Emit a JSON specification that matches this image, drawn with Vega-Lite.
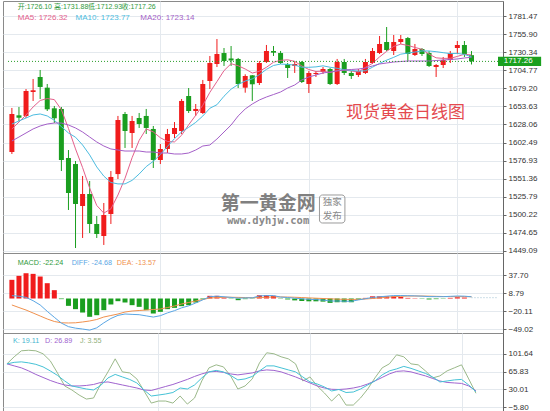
{
"$schema": "https://vega.github.io/schema/vega-lite/v6.json",
"background": "white",
"padding": {"left": 2, "top": 0, "right": 0, "bottom": 0},
"spacing": 0,
"bounds": "flush",
"config": {
  "view": {"stroke": "#8a8a8a", "strokeWidth": 1},
  "axis": {"labelFontSize": 8, "labelColor": "#333333", "labelFont": "Liberation Sans", "tickColor": "#666666", "tickSize": 3, "domainColor": "#666666", "gridColor": "#e4e9ee", "labelPadding": 2}
},
"datasets": {"k": [
{"i":1,"o":1589.1,"h":1651.4,"l":1586.3,"c":1642.9,"a5":1621.6,"a10":1628.7,"a20":1604.7,"m":30,"dif":4.6,"dea":-10.4,"K":81.3,"D":81.3,"J":81.3},
{"i":2,"o":1641.0,"h":1652.8,"l":1633.0,"c":1637.6,"a5":1631.5,"a10":1633.0,"a20":1610.3,"m":36.4,"dif":3.7,"dea":-14.5,"K":84.3,"D":77.2,"J":95.5},
{"i":3,"o":1640.1,"h":1678.2,"l":1637.2,"c":1675.4,"a5":1641.5,"a10":1637.2,"a20":1616.0,"m":40.6,"dif":1.8,"dea":-18.5,"K":85.3,"D":73.2,"J":107.6},
{"i":4,"o":1674.0,"h":1692.4,"l":1661.3,"c":1676.4,"a5":1652.8,"a10":1641.5,"a20":1621.7,"m":39.6,"dif":-3.5,"dea":-23.3,"K":83.3,"D":67.1,"J":108.7},
{"i":5,"o":1695.2,"h":1705.1,"l":1664.1,"c":1681.1,"a5":1662.0,"a10":1642.9,"a20":1625.9,"m":35.3,"dif":-10.4,"dea":-28.1,"K":80.3,"D":60.0,"J":107.6},
{"i":6,"o":1680.1,"h":1685.3,"l":1647.1,"c":1649.5,"a5":1664.7,"a10":1640.1,"a20":1628.7,"m":24.6,"dif":-20.6,"dea":-32.9,"K":75.2,"D":53.9,"J":101.6},
{"i":7,"o":1650.9,"h":1654.2,"l":1630.1,"c":1636.8,"a5":1663.2,"a10":1634.0,"a20":1630.1,"m":13.4,"dif":-30.2,"dea":-36.9,"K":67.1,"D":47.8,"J":87.4},
{"i":8,"o":1650.0,"h":1652.8,"l":1562.2,"c":1577.8,"a5":1649.0,"a10":1625.0,"a20":1630.1,"m":-1,"dif":-39.5,"dea":-39.0,"K":58.0,"D":42.8,"J":63.0},
{"i":9,"o":1580.6,"h":1591.9,"l":1507.1,"c":1531.1,"a5":1622.5,"a10":1616.0,"a20":1627.3,"m":-11.8,"dif":-45.2,"dea":-39.3,"K":46.8,"D":38.7,"J":36.7},
{"i":10,"o":1572.1,"h":1576.4,"l":1453.3,"c":1515.6,"a5":1593.5,"a10":1610.0,"a20":1623.1,"m":-17.1,"dif":-47.6,"dea":-39.0,"K":36.7,"D":36.7,"J":28.6},
{"i":11,"o":1512.7,"h":1555.2,"l":1467.5,"c":1529.7,"a5":1567.0,"a10":1599.0,"a20":1617.4,"m":-22.5,"dif":-49.0,"dea":-37.7,"K":33.6,"D":36.7,"J":18.4},
{"i":12,"o":1529.7,"h":1548.1,"l":1474.5,"c":1487.3,"a5":1538.0,"a10":1585.0,"a20":1610.3,"m":-29.4,"dif":-50.8,"dea":-36.1,"K":30.6,"D":37.7,"J":10.3},
{"i":13,"o":1487.3,"h":1498.6,"l":1467.5,"c":1473.1,"a5":1513.5,"a10":1568.0,"a20":1603.3,"m":-26.8,"dif":-47.1,"dea":-33.7,"K":28.6,"D":39.7,"J":12.4},
{"i":14,"o":1470.3,"h":1517.0,"l":1457.6,"c":1500.0,"a5":1502.7,"a10":1555.0,"a20":1597.6,"m":-18.7,"dif":-39.1,"dea":-29.7,"K":37.7,"D":43.8,"J":40.8},
{"i":15,"o":1501.4,"h":1562.2,"l":1487.3,"c":1553.8,"a5":1508.6,"a10":1546.0,"a20":1593.4,"m":-9.6,"dif":-32.1,"dea":-27.3,"K":52.9,"D":44.8,"J":65.1},
{"i":16,"o":1557.9,"h":1640.1,"l":1550.9,"c":1634.4,"a5":1528.3,"a10":1544.0,"a20":1591.9,"m":-4.3,"dif":-27.1,"dea":-24.9,"K":60.0,"D":41.8,"J":91.4},
{"i":17,"o":1642.9,"h":1645.7,"l":1594.8,"c":1618.8,"a5":1552.0,"a10":1544.0,"a20":1590.5,"m":-6.4,"dif":-24.9,"dea":-21.7,"K":54.9,"D":38.7,"J":65.1},
{"i":18,"o":1616.0,"h":1640.1,"l":1594.8,"c":1633.0,"a5":1581.0,"a10":1549.0,"a20":1590.5,"m":-10.7,"dif":-25.5,"dea":-20.1,"K":49.9,"D":35.7,"J":63.0},
{"i":19,"o":1637.2,"h":1644.3,"l":1623.1,"c":1628.7,"a5":1605.6,"a10":1558.0,"a20":1590.5,"m":-13.4,"dif":-26.0,"dea":-19.3,"K":42.8,"D":32.6,"J":50.9},
{"i":20,"o":1640.1,"h":1650.0,"l":1614.6,"c":1623.1,"a5":1621.8,"a10":1568.5,"a20":1589.1,"m":-18.7,"dif":-27.9,"dea":-18.5,"K":28.6,"D":28.6,"J":26.6},
{"i":21,"o":1621.7,"h":1625.9,"l":1566.5,"c":1577.8,"a5":1617.5,"a10":1576.0,"a20":1589.1,"m":-24.1,"dif":-29.8,"dea":-17.7,"K":16.4,"D":27.6,"J":2.2},
{"i":22,"o":1577.8,"h":1600.4,"l":1572.1,"c":1593.4,"a5":1609.3,"a10":1585.5,"a20":1587.7,"m":-21.4,"dif":-27.6,"dea":-16.9,"K":18.4,"D":31.6,"J":6.3},
{"i":23,"o":1593.4,"h":1621.7,"l":1587.7,"c":1614.6,"a5":1604.0,"a10":1597.0,"a20":1587.7,"m":-17.1,"dif":-23.1,"dea":-14.5,"K":20.5,"D":35.7,"J":6.3},
{"i":24,"o":1614.6,"h":1631.5,"l":1608.9,"c":1623.1,"a5":1603.4,"a10":1608.0,"a20":1586.3,"m":-15,"dif":-19.5,"dea":-12.0,"K":23.5,"D":39.7,"J":2.2},
{"i":25,"o":1618.8,"h":1664.1,"l":1614.6,"c":1661.3,"a5":1612.8,"a10":1617.5,"a20":1586.3,"m":-12.3,"dif":-15.0,"dea":-8.8,"K":32.6,"D":44.8,"J":16.4},
{"i":26,"o":1668.3,"h":1679.6,"l":1644.3,"c":1647.1,"a5":1627.6,"a10":1624.0,"a20":1587.7,"m":-10.7,"dif":-11.8,"dea":-6.4,"K":30.6,"D":49.9,"J":0.2},
{"i":27,"o":1647.1,"h":1657.0,"l":1640.1,"c":1650.0,"a5":1641.0,"a10":1631.0,"a20":1591.9,"m":-6.4,"dif":-7.2,"dea":-4.0,"K":38.7,"D":55.9,"J":12.4},
{"i":28,"o":1644.3,"h":1691.0,"l":1642.9,"c":1685.3,"a5":1655.2,"a10":1640.0,"a20":1597.6,"m":-1,"dif":-2.1,"dea":-1.6,"K":52.9,"D":61.0,"J":46.8},
{"i":29,"o":1689.5,"h":1724.9,"l":1678.2,"c":1715.0,"a5":1673.5,"a10":1651.0,"a20":1599.0,"m":4.3,"dif":3.0,"dea":0.8,"K":65.1,"D":65.1,"J":73.2},
{"i":30,"o":1713.6,"h":1748.9,"l":1709.3,"c":1727.7,"a5":1688.7,"a10":1656.0,"a20":1607.5,"m":4.3,"dif":3.7,"dea":1.5,"K":68.1,"D":66.1,"J":79.3},
{"i":31,"o":1729.1,"h":1736.2,"l":1710.8,"c":1717.8,"a5":1704.2,"a10":1668.0,"a20":1617.4,"m":1.5,"dif":2.8,"dea":2.0,"K":65.1,"D":64.1,"J":75.2},
{"i":32,"o":1721.4,"h":1739.0,"l":1710.8,"c":1718.6,"a5":1714.0,"a10":1678.0,"a20":1627.3,"m":-0.5,"dif":1.8,"dea":2.0,"K":58.0,"D":61.0,"J":57.0},
{"i":33,"o":1720.7,"h":1722.1,"l":1679.6,"c":1685.3,"a5":1711.1,"a10":1684.5,"a20":1640.1,"m":-2.7,"dif":0.5,"dea":1.8,"K":48.9,"D":59.0,"J":30.6},
{"i":34,"o":1680.1,"h":1699.0,"l":1673.0,"c":1696.6,"a5":1706.5,"a10":1689.5,"a20":1650.0,"m":-1,"dif":1.0,"dea":1.5,"K":50.9,"D":61.0,"J":36.7},
{"i":35,"o":1697.6,"h":1698.0,"l":1661.3,"c":1684.9,"a5":1700.8,"a10":1692.5,"a20":1657.0,"m":-0.5,"dif":1.1,"dea":1.3,"K":55.9,"D":63.0,"J":50.9},
{"i":36,"o":1686.7,"h":1717.8,"l":1683.9,"c":1715.0,"a5":1703.3,"a10":1698.5,"a20":1662.7,"m":5.3,"dif":4.2,"dea":1.5,"K":67.1,"D":67.1,"J":83.3},
{"i":37,"o":1716.4,"h":1740.5,"l":1715.0,"c":1732.0,"a5":1708.9,"a10":1706.0,"a20":1666.9,"m":5.3,"dif":4.7,"dea":2.0,"K":77.2,"D":69.1,"J":103.6},
{"i":38,"o":1732.0,"h":1739.0,"l":1724.9,"c":1729.6,"a5":1716.1,"a10":1711.5,"a20":1670.4,"m":4.3,"dif":4.7,"dea":2.5,"K":77.2,"D":68.1,"J":101.6},
{"i":39,"o":1729.1,"h":1732.0,"l":1713.6,"c":1715.0,"a5":1718.7,"a10":1713.5,"a20":1674.0,"m":-0.5,"dif":2.3,"dea":2.5,"K":73.2,"D":65.1,"J":95.5},
{"i":40,"o":1713.6,"h":1715.0,"l":1693.8,"c":1707.9,"a5":1719.5,"a10":1713.0,"a20":1679.6,"m":-1.5,"dif":1.6,"dea":2.3,"K":69.1,"D":60.0,"J":91.4},
{"i":41,"o":1710.8,"h":1717.8,"l":1700.9,"c":1713.6,"a5":1717.3,"a10":1712.0,"a20":1683.9,"m":-3,"dif":0.5,"dea":2.0,"K":65.1,"D":54.9,"J":81.3},
{"i":42,"o":1716.4,"h":1717.8,"l":1686.7,"c":1688.1,"a5":1710.8,"a10":1709.0,"a20":1691.0,"m":-4,"dif":-0.5,"dea":1.5,"K":54.9,"D":48.9,"J":46.8},
{"i":43,"o":1685.3,"h":1703.7,"l":1672.6,"c":1700.9,"a5":1705.8,"a10":1708.9,"a20":1695.2,"m":-4.5,"dif":-1.3,"dea":1.0,"K":44.8,"D":42.8,"J":54.9},
{"i":44,"o":1699.4,"h":1703.7,"l":1695.2,"c":1700.9,"a5":1703.0,"a10":1709.5,"a20":1698.0,"m":-4.5,"dif":-1.8,"dea":0.5,"K":40.7,"D":36.7,"J":36.7},
{"i":45,"o":1702.3,"h":1709.3,"l":1699.4,"c":1706.5,"a5":1703.5,"a10":1711.0,"a20":1700.9,"m":-5,"dif":-2.5,"dea":0.0,"K":34.7,"D":32.6,"J":22.5},
{"i":46,"o":1706.5,"h":1707.9,"l":1683.9,"c":1685.3,"a5":1701.4,"a10":1709.0,"a20":1702.3,"m":-7,"dif":-4.0,"dea":-0.5,"K":26.6,"D":30.0,"J":6.3},
{"i":47,"o":1685.3,"h":1720.7,"l":1683.9,"c":1716.4,"a5":1704.2,"a10":1707.5,"a20":1703.7,"m":-6,"dif":-4.0,"dea":-1.0,"K":29.6,"D":29.6,"J":20.5},
{"i":48,"o":1716.4,"h":1720.7,"l":1698.0,"c":1700.9,"a5":1705.0,"a10":1705.5,"a20":1705.1,"m":-6,"dif":-4.3,"dea":-1.3,"K":23.5,"D":30.6,"J":-1.8},
{"i":49,"o":1700.9,"h":1703.7,"l":1692.4,"c":1696.6,"a5":1703.8,"a10":1704.5,"a20":1705.8,"m":-6,"dif":-4.5,"dea":-1.5,"K":24.5,"D":32.6,"J":-1.8},
{"i":50,"o":1698.0,"h":1706.5,"l":1695.2,"c":1703.7,"a5":1702.2,"a10":1703.5,"a20":1706.5,"m":-2,"dif":-2.3,"dea":-1.3,"K":30.6,"D":35.7,"J":12.4},
{"i":51,"o":1700.9,"h":1720.7,"l":1699.4,"c":1716.4,"a5":1708.8,"a10":1704.0,"a20":1707.9,"m":1,"dif":-0.3,"dea":-0.8,"K":38.7,"D":40.7,"J":30.6},
{"i":52,"o":1715.0,"h":1736.2,"l":1713.6,"c":1732.0,"a5":1714.5,"a10":1709.0,"a20":1710.8,"m":3.5,"dif":1.75,"dea":0.0,"K":46.8,"D":46.8,"J":52.9},
{"i":53,"o":1729.1,"h":1753.2,"l":1727.7,"c":1741.9,"a5":1723.6,"a10":1714.5,"a20":1713.6,"m":3.5,"dif":2.75,"dea":1.0,"K":59.0,"D":53.9,"J":73.2},
{"i":54,"o":1744.7,"h":1765.9,"l":1732.0,"c":1733.4,"a5":1731.5,"a10":1719.0,"a20":1715.0,"m":3.5,"dif":3.75,"dea":2.0,"K":67.1,"D":61.0,"J":81.3},
{"i":55,"o":1732.0,"h":1754.6,"l":1726.3,"c":1744.7,"a5":1738.5,"a10":1723.0,"a20":1716.4,"m":3.5,"dif":4.75,"dea":3.0,"K":71.1,"D":66.1,"J":99.5},
{"i":56,"o":1744.7,"h":1754.6,"l":1741.9,"c":1748.9,"a5":1741.7,"a10":1727.5,"a20":1717.1,"m":2.5,"dif":4.75,"dea":3.5,"K":76.2,"D":67.1,"J":95.5},
{"i":57,"o":1750.3,"h":1751.8,"l":1717.8,"c":1727.7,"a5":1739.9,"a10":1729.0,"a20":1717.8,"m":1,"dif":4.5,"dea":4.0,"K":72.2,"D":65.1,"J":81.3},
{"i":58,"o":1726.3,"h":1741.9,"l":1724.9,"c":1734.8,"a5":1737.0,"a10":1730.5,"a20":1717.8,"m":0.5,"dif":4.25,"dea":4.0,"K":67.1,"D":61.0,"J":79.3},
{"i":59,"o":1734.8,"h":1736.2,"l":1724.9,"c":1727.7,"a5":1734.4,"a10":1732.0,"a20":1717.8,"m":-0.5,"dif":3.75,"dea":4.0,"K":62.0,"D":57.0,"J":67.1},
{"i":60,"o":1729.1,"h":1732.0,"l":1709.3,"c":1710.8,"a5":1727.5,"a10":1732.0,"a20":1717.8,"m":-1.5,"dif":3.05,"dea":3.8,"K":54.9,"D":51.9,"J":52.9},
{"i":61,"o":1709.3,"h":1713.6,"l":1695.2,"c":1712.2,"a5":1722.3,"a10":1731.0,"a20":1718.5,"m":-1,"dif":3.0,"dea":3.5,"K":44.8,"D":46.8,"J":57.0},
{"i":62,"o":1712.2,"h":1723.5,"l":1707.9,"c":1719.2,"a5":1721.5,"a10":1729.6,"a20":1719.2,"m":-0.5,"dif":2.95,"dea":3.2,"K":46.8,"D":43.8,"J":67.1},
{"i":63,"o":1719.2,"h":1732.0,"l":1715.0,"c":1729.1,"a5":1721.6,"a10":1728.3,"a20":1719.9,"m":1,"dif":3.5,"dea":3.0,"K":48.9,"D":42.8,"J":73.2},
{"i":64,"o":1736.2,"h":1746.1,"l":1727.7,"c":1740.5,"a5":1724.3,"a10":1728.6,"a20":1720.7,"m":2,"dif":4.0,"dea":3.0,"K":49.9,"D":41.8,"J":79.3},
{"i":65,"o":1740.5,"h":1746.1,"l":1723.5,"c":1727.7,"a5":1727.4,"a10":1727.1,"a20":1722.1,"m":1.5,"dif":3.75,"dea":3.0,"K":38.7,"D":36.7,"J":50.9},
{"i":66,"o":1726.10,"h":1731.88,"l":1712.93,"c":1717.26,"a5":1726.32,"a10":1723.77,"a20":1723.14,"m":0,"dif":2.8,"dea":2.8,"K":25.0,"D":26.89,"J":22.0}
]},
"vconcat": [
{
 "width": 500, "height": 252,
 "layer": [
  {"data": {"name": "k"}, "mark": {"type": "rule", "strokeWidth": 1},
   "encoding": {
    "x": {"field": "i", "type": "quantitative", "scale": {"domain": [0.45, 69.75], "nice": false, "zero": false}, "axis": {"values": [22, 43, 64], "grid": true, "labels": false, "ticks": false, "domain": false, "title": null}},
    "y": {"field": "l", "type": "quantitative", "scale": {"domain": [1446.26, 1802.69], "nice": false, "zero": false}, "axis": {"orient": "right", "values": [1449.09, 1474.65, 1500.22, 1525.79, 1551.36, 1576.93, 1602.49, 1628.06, 1653.63, 1679.2, 1704.77, 1730.34, 1755.9, 1781.47], "format": ".2f", "grid": true, "title": null}},
    "y2": {"field": "h"},
    "color": {"condition": {"test": "datum.c >= datum.o", "value": "#f01c1c"}, "value": "#1a9e1f"}
   }},
  {"data": {"name": "k"}, "mark": {"type": "bar", "width": 5},
   "encoding": {
    "x": {"field": "i", "type": "quantitative", "scale": {"domain": [0.45, 69.75], "nice": false, "zero": false}, "axis": {"values": [22, 43, 64], "grid": true, "labels": false, "ticks": false, "domain": false, "title": null}},
    "y": {"field": "o", "type": "quantitative", "scale": {"domain": [1446.26, 1802.69], "nice": false, "zero": false}, "axis": {"orient": "right", "values": [1449.09, 1474.65, 1500.22, 1525.79, 1551.36, 1576.93, 1602.49, 1628.06, 1653.63, 1679.2, 1704.77, 1730.34, 1755.9, 1781.47], "format": ".2f", "grid": true, "title": null}},
    "y2": {"field": "c"},
    "color": {"condition": {"test": "datum.c >= datum.o", "value": "#f01c1c"}, "value": "#1a9e1f"}
   }},
  {"data": {"name": "k"}, "mark": {"type": "line", "strokeWidth": 1, "color": "#e4608c"},
   "encoding": {
    "x": {"field": "i", "type": "quantitative", "scale": {"domain": [0.45, 69.75], "nice": false, "zero": false}, "axis": {"values": [22, 43, 64], "grid": true, "labels": false, "ticks": false, "domain": false, "title": null}},
    "y": {"field": "a5", "type": "quantitative", "scale": {"domain": [1446.26, 1802.69], "nice": false, "zero": false}, "axis": {"orient": "right", "values": [1449.09, 1474.65, 1500.22, 1525.79, 1551.36, 1576.93, 1602.49, 1628.06, 1653.63, 1679.2, 1704.77, 1730.34, 1755.9, 1781.47], "format": ".2f", "grid": true, "title": null}}
   }},
  {"data": {"name": "k"}, "mark": {"type": "line", "strokeWidth": 1, "color": "#4cbce0"},
   "encoding": {
    "x": {"field": "i", "type": "quantitative", "scale": {"domain": [0.45, 69.75], "nice": false, "zero": false}, "axis": {"values": [22, 43, 64], "grid": true, "labels": false, "ticks": false, "domain": false, "title": null}},
    "y": {"field": "a10", "type": "quantitative", "scale": {"domain": [1446.26, 1802.69], "nice": false, "zero": false}, "axis": {"orient": "right", "values": [1449.09, 1474.65, 1500.22, 1525.79, 1551.36, 1576.93, 1602.49, 1628.06, 1653.63, 1679.2, 1704.77, 1730.34, 1755.9, 1781.47], "format": ".2f", "grid": true, "title": null}}
   }},
  {"data": {"name": "k"}, "mark": {"type": "line", "strokeWidth": 1, "color": "#a45fc8"},
   "encoding": {
    "x": {"field": "i", "type": "quantitative", "scale": {"domain": [0.45, 69.75], "nice": false, "zero": false}, "axis": {"values": [22, 43, 64], "grid": true, "labels": false, "ticks": false, "domain": false, "title": null}},
    "y": {"field": "a20", "type": "quantitative", "scale": {"domain": [1446.26, 1802.69], "nice": false, "zero": false}, "axis": {"orient": "right", "values": [1449.09, 1474.65, 1500.22, 1525.79, 1551.36, 1576.93, 1602.49, 1628.06, 1653.63, 1679.2, 1704.77, 1730.34, 1755.9, 1781.47], "format": ".2f", "grid": true, "title": null}}
   }},
  {"data": {"values": [{}]}, "mark": {"type": "rule", "strokeDash": [1, 2], "color": "#2a9d2a", "strokeWidth": 1},
   "encoding": {
    "x": {"datum": 0.45, "type": "quantitative", "scale": {"domain": [0.45, 69.75], "nice": false, "zero": false}, "axis": {"values": [22, 43, 64], "grid": true, "labels": false, "ticks": false, "domain": false, "title": null}},
    "x2": {"datum": 69.75},
    "y": {"datum": 1717.26, "type": "quantitative", "scale": {"domain": [1446.26, 1802.69], "nice": false, "zero": false}, "axis": {"orient": "right", "values": [1449.09, 1474.65, 1500.22, 1525.79, 1551.36, 1576.93, 1602.49, 1628.06, 1653.63, 1679.2, 1704.77, 1730.34, 1755.9, 1781.47], "format": ".2f", "grid": true, "title": null}}
   }},
  {"data": {"values": [{}]}, "mark": {"type": "rect", "color": "#1aa01f"},
   "encoding": {
    "x": {"datum": 69.75, "type": "quantitative", "scale": {"domain": [0.45, 69.75], "nice": false, "zero": false}, "axis": {"values": [22, 43, 64], "grid": true, "labels": false, "ticks": false, "domain": false, "title": null}},
    "x2": {"datum": 75.85},
    "y": {"datum": 1723.7, "type": "quantitative", "scale": {"domain": [1446.26, 1802.69], "nice": false, "zero": false}, "axis": {"orient": "right", "values": [1449.09, 1474.65, 1500.22, 1525.79, 1551.36, 1576.93, 1602.49, 1628.06, 1653.63, 1679.2, 1704.77, 1730.34, 1755.9, 1781.47], "format": ".2f", "grid": true, "title": null}},
    "y2": {"datum": 1710.8}
   }},
  {"data": {"values": [{}]}, "mark": {"type": "text", "text": "1717.26", "align": "center", "baseline": "middle", "fontSize": 8, "color": "#ffffff", "font": "Liberation Sans"},
   "encoding": {
    "x": {"datum": 72.6, "type": "quantitative", "scale": {"domain": [0.45, 69.75], "nice": false, "zero": false}, "axis": {"values": [22, 43, 64], "grid": true, "labels": false, "ticks": false, "domain": false, "title": null}},
    "y": {"datum": 1717.26, "type": "quantitative", "scale": {"domain": [1446.26, 1802.69], "nice": false, "zero": false}, "axis": {"orient": "right", "values": [1449.09, 1474.65, 1500.22, 1525.79, 1551.36, 1576.93, 1602.49, 1628.06, 1653.63, 1679.2, 1704.77, 1730.34, 1755.9, 1781.47], "format": ".2f", "grid": true, "title": null}}
   }},
  {"data": {"values": [{"t": "开:1726.10", "x": 1.83}, {"t": "高:1731.88", "x": 6.96}, {"t": "低:1712.93", "x": 11.75}, {"t": "收:1717.26", "x": 16.5}]},
   "mark": {"type": "text", "align": "left", "baseline": "middle", "fontSize": 7, "color": "#2f9a3c", "font": "Liberation Sans, Noto Sans CJK SC"},
   "encoding": {
    "x": {"field": "x", "type": "quantitative", "scale": {"domain": [0.45, 69.75], "nice": false, "zero": false}, "axis": {"values": [22, 43, 64], "grid": true, "labels": false, "ticks": false, "domain": false, "title": null}},
    "y": {"datum": 1794.2, "type": "quantitative", "scale": {"domain": [1446.26, 1802.69], "nice": false, "zero": false}, "axis": {"orient": "right", "values": [1449.09, 1474.65, 1500.22, 1525.79, 1551.36, 1576.93, 1602.49, 1628.06, 1653.63, 1679.2, 1704.77, 1730.34, 1755.9, 1781.47], "format": ".2f", "grid": true, "title": null}},
    "text": {"field": "t"}
   }},
  {"data": {"values": [{"t": "MA5: 1726.32", "x": 1.83, "s": "MA5"}, {"t": "MA10: 1723.77", "x": 10.0, "s": "MA10"}, {"t": "MA20: 1723.14", "x": 19.16, "s": "MA20"}]},
   "mark": {"type": "text", "align": "left", "baseline": "middle", "fontSize": 8, "font": "Liberation Sans"},
   "encoding": {
    "x": {"field": "x", "type": "quantitative", "scale": {"domain": [0.45, 69.75], "nice": false, "zero": false}, "axis": {"values": [22, 43, 64], "grid": true, "labels": false, "ticks": false, "domain": false, "title": null}},
    "y": {"datum": 1778.7, "type": "quantitative", "scale": {"domain": [1446.26, 1802.69], "nice": false, "zero": false}, "axis": {"orient": "right", "values": [1449.09, 1474.65, 1500.22, 1525.79, 1551.36, 1576.93, 1602.49, 1628.06, 1653.63, 1679.2, 1704.77, 1730.34, 1755.9, 1781.47], "format": ".2f", "grid": true, "title": null}},
    "text": {"field": "t"},
    "color": {"condition": [{"test": "datum.s === 'MA5'", "value": "#e4608c"}, {"test": "datum.s === 'MA10'", "value": "#4cbce0"}], "value": "#a45fc8"}
   }},
  {"data": {"values": [{}]}, "mark": {"type": "text", "text": "现货黄金日线图", "align": "left", "baseline": "middle", "fontSize": 17, "color": "#e4494e", "font": "Noto Sans CJK SC"},
   "encoding": {
    "x": {"datum": 48.26, "type": "quantitative", "scale": {"domain": [0.45, 69.75], "nice": false, "zero": false}, "axis": {"values": [22, 43, 64], "grid": true, "labels": false, "ticks": false, "domain": false, "title": null}},
    "y": {"datum": 1644.3, "type": "quantitative", "scale": {"domain": [1446.26, 1802.69], "nice": false, "zero": false}, "axis": {"orient": "right", "values": [1449.09, 1474.65, 1500.22, 1525.79, 1551.36, 1576.93, 1602.49, 1628.06, 1653.63, 1679.2, 1704.77, 1730.34, 1755.9, 1781.47], "format": ".2f", "grid": true, "title": null}}
   }},
  {"data": {"values": [{}]}, "mark": {"type": "text", "text": "第一黄金网", "align": "center", "baseline": "middle", "fontSize": 19, "fontWeight": "bold", "color": "#808080", "font": "Noto Sans CJK SC"},
   "encoding": {
    "x": {"datum": 37.24, "type": "quantitative", "scale": {"domain": [0.45, 69.75], "nice": false, "zero": false}, "axis": {"values": [22, 43, 64], "grid": true, "labels": false, "ticks": false, "domain": false, "title": null}},
    "y": {"datum": 1515.0, "type": "quantitative", "scale": {"domain": [1446.26, 1802.69], "nice": false, "zero": false}, "axis": {"orient": "right", "values": [1449.09, 1474.65, 1500.22, 1525.79, 1551.36, 1576.93, 1602.49, 1628.06, 1653.63, 1679.2, 1704.77, 1730.34, 1755.9, 1781.47], "format": ".2f", "grid": true, "title": null}}
   }},
  {"data": {"values": [{}]}, "mark": {"type": "text", "text": "www.dyhjw.com", "align": "center", "baseline": "middle", "fontSize": 10.5, "fontWeight": "bold", "color": "#8a8a8a", "font": "DejaVu Sans Mono"},
   "encoding": {
    "x": {"datum": 37.24, "type": "quantitative", "scale": {"domain": [0.45, 69.75], "nice": false, "zero": false}, "axis": {"values": [22, 43, 64], "grid": true, "labels": false, "ticks": false, "domain": false, "title": null}},
    "y": {"datum": 1491.5, "type": "quantitative", "scale": {"domain": [1446.26, 1802.69], "nice": false, "zero": false}, "axis": {"orient": "right", "values": [1449.09, 1474.65, 1500.22, 1525.79, 1551.36, 1576.93, 1602.49, 1628.06, 1653.63, 1679.2, 1704.77, 1730.34, 1755.9, 1781.47], "format": ".2f", "grid": true, "title": null}}
   }},
  {"data": {"values": [{}]}, "mark": {"type": "rect", "fill": null, "fillOpacity": 0, "stroke": "#9a9a9a", "strokeWidth": 1, "cornerRadius": 3},
   "encoding": {
    "x": {"datum": 44.5, "type": "quantitative", "scale": {"domain": [0.45, 69.75], "nice": false, "zero": false}, "axis": {"values": [22, 43, 64], "grid": true, "labels": false, "ticks": false, "domain": false, "title": null}},
    "x2": {"datum": 48.1},
    "y": {"datum": 1528.3, "type": "quantitative", "scale": {"domain": [1446.26, 1802.69], "nice": false, "zero": false}, "axis": {"orient": "right", "values": [1449.09, 1474.65, 1500.22, 1525.79, 1551.36, 1576.93, 1602.49, 1628.06, 1653.63, 1679.2, 1704.77, 1730.34, 1755.9, 1781.47], "format": ".2f", "grid": true, "title": null}},
    "y2": {"datum": 1488.7}
   }},
  {"data": {"values": [{"t": "独家", "y": 1518.8}, {"t": "发布", "y": 1499.3}]},
   "mark": {"type": "text", "align": "center", "baseline": "middle", "fontSize": 9.5, "color": "#8a8a8a", "font": "Noto Sans CJK SC"},
   "encoding": {
    "x": {"datum": 46.3, "type": "quantitative", "scale": {"domain": [0.45, 69.75], "nice": false, "zero": false}, "axis": {"values": [22, 43, 64], "grid": true, "labels": false, "ticks": false, "domain": false, "title": null}},
    "y": {"field": "y", "type": "quantitative", "scale": {"domain": [1446.26, 1802.69], "nice": false, "zero": false}, "axis": {"orient": "right", "values": [1449.09, 1474.65, 1500.22, 1525.79, 1551.36, 1576.93, 1602.49, 1628.06, 1653.63, 1679.2, 1704.77, 1730.34, 1755.9, 1781.47], "format": ".2f", "grid": true, "title": null}},
    "text": {"field": "t"}
   }}
 ]
},
{
 "width": 500, "height": 80,
 "layer": [
  {"data": {"name": "k"}, "mark": {"type": "bar", "width": 5},
   "encoding": {
    "x": {"field": "i", "type": "quantitative", "scale": {"domain": [0.45, 69.75], "nice": false, "zero": false}, "axis": {"values": [22, 43, 64], "grid": true, "labels": false, "ticks": false, "domain": false, "title": null}},
    "y": {"field": "m", "type": "quantitative", "scale": {"domain": [-55.4, 73.1], "nice": false, "zero": false}, "axis": {"orient": "right", "values": [-49.02, -20.11, 8.79, 37.7], "format": ".2f", "grid": true, "title": null}},
    "y2": {"datum": 0},
    "color": {"condition": {"test": "datum.m > 0", "value": "#f01c1c"}, "value": "#1a9e1f"}
   }},
  {"data": {"name": "k"}, "mark": {"type": "line", "strokeWidth": 1, "color": "#f0914e"},
   "encoding": {
    "x": {"field": "i", "type": "quantitative", "scale": {"domain": [0.45, 69.75], "nice": false, "zero": false}, "axis": {"values": [22, 43, 64], "grid": true, "labels": false, "ticks": false, "domain": false, "title": null}},
    "y": {"field": "dea", "type": "quantitative", "scale": {"domain": [-55.4, 73.1], "nice": false, "zero": false}, "axis": {"orient": "right", "values": [-49.02, -20.11, 8.79, 37.7], "format": ".2f", "grid": true, "title": null}}
   }},
  {"data": {"name": "k"}, "mark": {"type": "line", "strokeWidth": 1, "color": "#5aa6e4"},
   "encoding": {
    "x": {"field": "i", "type": "quantitative", "scale": {"domain": [0.45, 69.75], "nice": false, "zero": false}, "axis": {"values": [22, 43, 64], "grid": true, "labels": false, "ticks": false, "domain": false, "title": null}},
    "y": {"field": "dif", "type": "quantitative", "scale": {"domain": [-55.4, 73.1], "nice": false, "zero": false}, "axis": {"orient": "right", "values": [-49.02, -20.11, 8.79, 37.7], "format": ".2f", "grid": true, "title": null}}
   }},
  {"data": {"values": [{}]}, "mark": {"type": "rule", "strokeDash": [1, 2], "color": "#9bbfd0", "strokeWidth": 1},
   "encoding": {
    "x": {"datum": 66, "type": "quantitative", "scale": {"domain": [0.45, 69.75], "nice": false, "zero": false}, "axis": {"values": [22, 43, 64], "grid": true, "labels": false, "ticks": false, "domain": false, "title": null}},
    "x2": {"datum": 69.75},
    "y": {"datum": 1.3, "type": "quantitative", "scale": {"domain": [-55.4, 73.1], "nice": false, "zero": false}, "axis": {"orient": "right", "values": [-49.02, -20.11, 8.79, 37.7], "format": ".2f", "grid": true, "title": null}}
   }},
  {"data": {"values": [{"t": "MACD: -22.24", "x": 1.83, "s": "m"}, {"t": "DIFF: -24.68", "x": 9.45, "s": "dif"}, {"t": "DEA: -13.57", "x": 15.83, "s": "dea"}]},
   "mark": {"type": "text", "baseline": "middle", "align": "left", "fontSize": 7.2, "font": "Liberation Sans"},
   "encoding": {
    "x": {"field": "x", "type": "quantitative", "scale": {"domain": [0.45, 69.75], "nice": false, "zero": false}, "axis": {"values": [22, 43, 64], "grid": true, "labels": false, "ticks": false, "domain": false, "title": null}},
    "y": {"datum": 57.0, "type": "quantitative", "scale": {"domain": [-55.4, 73.1], "nice": false, "zero": false}, "axis": {"orient": "right", "values": [-49.02, -20.11, 8.79, 37.7], "format": ".2f", "grid": true, "title": null}},
    "text": {"field": "t"},
    "color": {"condition": [{"test": "datum.s === 'm'", "value": "#2f9a3c"}, {"test": "datum.s === 'dif'", "value": "#5aa6e4"}], "value": "#f0914e"}
   }}
 ]
},
{
 "width": 500, "height": 79,
 "layer": [
  {"data": {"name": "k"}, "mark": {"type": "line", "strokeWidth": 1, "color": "#9bb98a"},
   "encoding": {
    "x": {"field": "i", "type": "quantitative", "scale": {"domain": [0.45, 69.75], "nice": false, "zero": false}, "axis": {"values": [22, 43, 64], "grid": true, "labels": false, "ticks": false, "domain": false, "title": null}},
    "y": {"field": "J", "type": "quantitative", "scale": {"domain": [-15.8, 143.5], "nice": false, "zero": false}, "axis": {"orient": "right", "values": [-5.8, 30.01, 65.83, 101.64], "format": ".2f", "grid": true, "title": null}}
   }},
  {"data": {"name": "k"}, "mark": {"type": "line", "strokeWidth": 1, "color": "#a064cf"},
   "encoding": {
    "x": {"field": "i", "type": "quantitative", "scale": {"domain": [0.45, 69.75], "nice": false, "zero": false}, "axis": {"values": [22, 43, 64], "grid": true, "labels": false, "ticks": false, "domain": false, "title": null}},
    "y": {"field": "D", "type": "quantitative", "scale": {"domain": [-15.8, 143.5], "nice": false, "zero": false}, "axis": {"orient": "right", "values": [-5.8, 30.01, 65.83, 101.64], "format": ".2f", "grid": true, "title": null}}
   }},
  {"data": {"name": "k"}, "mark": {"type": "line", "strokeWidth": 1, "color": "#45c2d6"},
   "encoding": {
    "x": {"field": "i", "type": "quantitative", "scale": {"domain": [0.45, 69.75], "nice": false, "zero": false}, "axis": {"values": [22, 43, 64], "grid": true, "labels": false, "ticks": false, "domain": false, "title": null}},
    "y": {"field": "K", "type": "quantitative", "scale": {"domain": [-15.8, 143.5], "nice": false, "zero": false}, "axis": {"orient": "right", "values": [-5.8, 30.01, 65.83, 101.64], "format": ".2f", "grid": true, "title": null}}
   }},
  {"data": {"values": [{"t": "K: 19.11", "x": 1.83, "s": "K"}, {"t": "D: 26.89", "x": 6.27, "s": "D"}, {"t": "J: 3.55", "x": 11.12, "s": "J"}]},
   "mark": {"type": "text", "baseline": "middle", "align": "left", "fontSize": 7.2, "font": "Liberation Sans"},
   "encoding": {
    "x": {"field": "x", "type": "quantitative", "scale": {"domain": [0.45, 69.75], "nice": false, "zero": false}, "axis": {"values": [22, 43, 64], "grid": true, "labels": false, "ticks": false, "domain": false, "title": null}},
    "y": {"datum": 127.4, "type": "quantitative", "scale": {"domain": [-15.8, 143.5], "nice": false, "zero": false}, "axis": {"orient": "right", "values": [-5.8, 30.01, 65.83, 101.64], "format": ".2f", "grid": true, "title": null}},
    "text": {"field": "t"},
    "color": {"condition": [{"test": "datum.s === 'K'", "value": "#45b6d0"}, {"test": "datum.s === 'D'", "value": "#a064cf"}], "value": "#8fb07a"}
   }}
 ]
}
]
}
